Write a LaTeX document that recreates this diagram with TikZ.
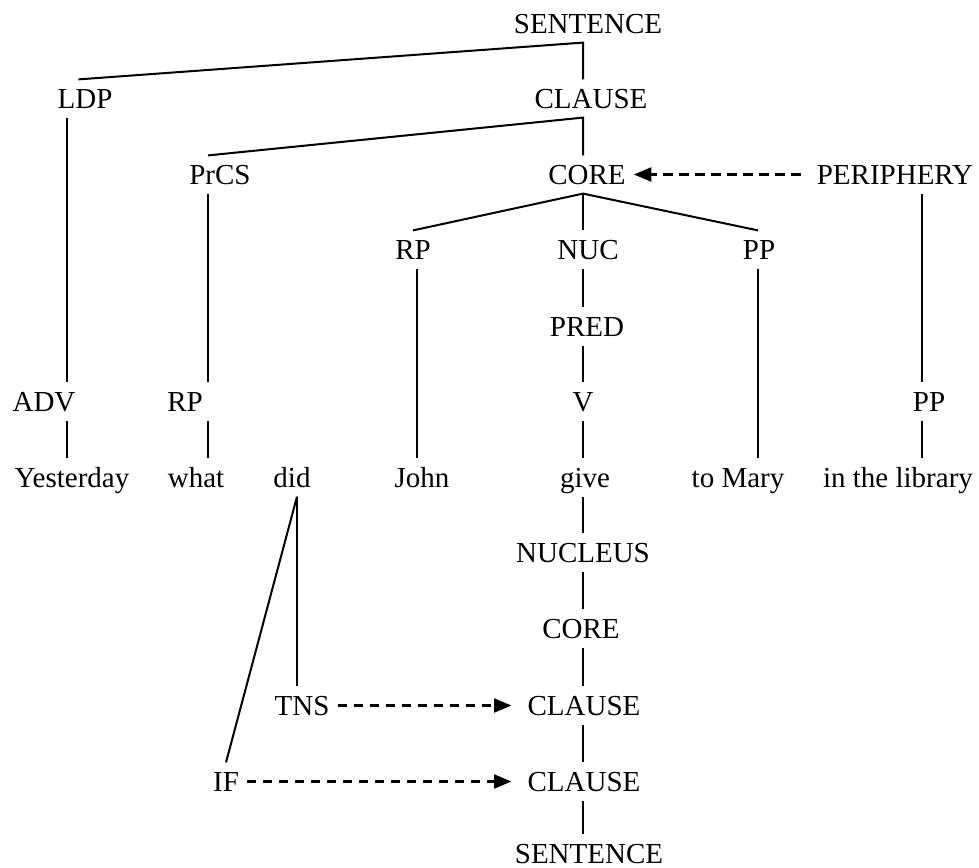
\documentclass[tikz,border=0pt]{standalone}
\usepackage{fontspec}
\setmainfont{Liberation Serif}
\usetikzlibrary{arrows.meta}
\tikzset{
  cat/.style={anchor=base, inner xsep=6pt, inner ysep=7pt, text height=14.25pt, text depth=0pt},
  branch/.style={line width=1.5pt},
  link/.style={line width=1.6pt, dash pattern=on 7pt off 5pt, -{Triangle[length=13pt,width=10.5pt]}}
}
\begin{document}
\begin{tikzpicture}[x=0.75pt,y=-0.75pt,font=\fontsize{21.75pt}{26pt}\selectfont]
\useasboundingbox (0,0) rectangle (979,868);

% Columns of the vertical branches
\coordinate (colA) at (67,0);
\coordinate (colB) at (208,0);
\coordinate (colD) at (297,0);
\coordinate (colJ) at (417,0);
\coordinate (spine) at (583,0);
\coordinate (colM) at (758,0);
\coordinate (colP) at (922,0);

% Upper tree
\node[cat] (s1) at (588,33) {SENTENCE};
\node[cat] (ldp) at (85,108) {LDP};
\node[cat] (c1) at (591,108) {CLAUSE};
\node[cat] (prcs) at (220,184) {PrCS};
\node[cat] (core1) at (587,184) {CORE};
\node[cat] (peri) at (895,184) {PERIPHERY};
\node[cat] (rp1) at (413,259) {RP};
\node[cat] (nuc) at (588,259) {NUC};
\node[cat] (pp1) at (759,259) {PP};
\node[cat] (pred) at (587,336) {PRED};
\node[cat] (adv) at (44,411) {ADV};
\node[cat] (rp2) at (185,411) {RP};
\node[cat] (v) at (583,411) {V};
\node[cat] (pp2) at (929,411) {PP};

% Words
\node[cat] (yest) at (72,487) {Yesterday};
\node[cat] (what) at (196,487) {what};
\node[cat] (did) at (292,487) {did};
\node[cat] (john) at (422,487) {John};
\node[cat] (give) at (585,487) {give};
\node[cat] (mary) at (738,487) {to Mary};
\node[cat] (lib) at (898,487) {in the library};

% Lower tree
\node[cat] (nucleus) at (583,562) {NUCLEUS};
\node[cat] (core2) at (581,638) {CORE};
\node[cat] (tns) at (302,715) {TNS};
\node[cat] (clause2) at (584,715) {CLAUSE};
\node[cat] (if) at (226,791) {IF};
\node[cat] (clause3) at (584,791) {CLAUSE};
\node[cat] (s2) at (589,863) {SENTENCE};

% Branches
\draw[branch] ([xshift=-5pt]ldp.north) -- (s1.south -| spine) -- (c1.north -| spine);
\draw[branch] (prcs.north -| colB) -- (c1.south -| spine) -- (core1.north -| spine);
\draw[branch] (rp1.north) -- (core1.south -| spine) -- (pp1.north -| colM);
\draw[branch] (core1.south -| spine) -- (nuc.north -| spine);
\draw[branch] (ldp.south -| colA) -- (adv.north -| colA);
\draw[branch] (adv.south -| colA) -- (yest.north -| colA);
\draw[branch] (prcs.south -| colB) -- (rp2.north -| colB);
\draw[branch] (rp2.south -| colB) -- (what.north -| colB);
\draw[branch] (rp1.south -| colJ) -- (john.north -| colJ);
\draw[branch] (nuc.south -| spine) -- (pred.north -| spine);
\draw[branch] (pred.south -| spine) -- (v.north -| spine);
\draw[branch] (v.south -| spine) -- (give.north -| spine);
\draw[branch] (pp1.south -| colM) -- (mary.north -| colM);
\draw[branch] (peri.south -| colP) -- (pp2.north -| colP);
\draw[branch] (pp2.south -| colP) -- (lib.north -| colP);
\draw[branch] (give.south -| spine) -- (nucleus.north -| spine);
\draw[branch] (nucleus.south -| spine) -- (core2.north -| spine);
\draw[branch] (core2.south -| spine) -- (clause2.north -| spine);
\draw[branch] (clause2.south -| spine) -- (clause3.north -| spine);
\draw[branch] (clause3.south -| spine) -- (s2.north -| spine);
\draw[branch] (did.south -| colD) -- (tns.north -| colD);
\draw[branch] (did.south -| colD) -- (if.north);

% Operator and periphery links
\draw[link, shorten <=6pt] (peri.west) -- (core1.east);
\draw[link, shorten >=6pt] (tns.east) -- (clause2.west);
\draw[link, shorten >=6pt] (if.east) -- (clause3.west);
\end{tikzpicture}
\end{document}
